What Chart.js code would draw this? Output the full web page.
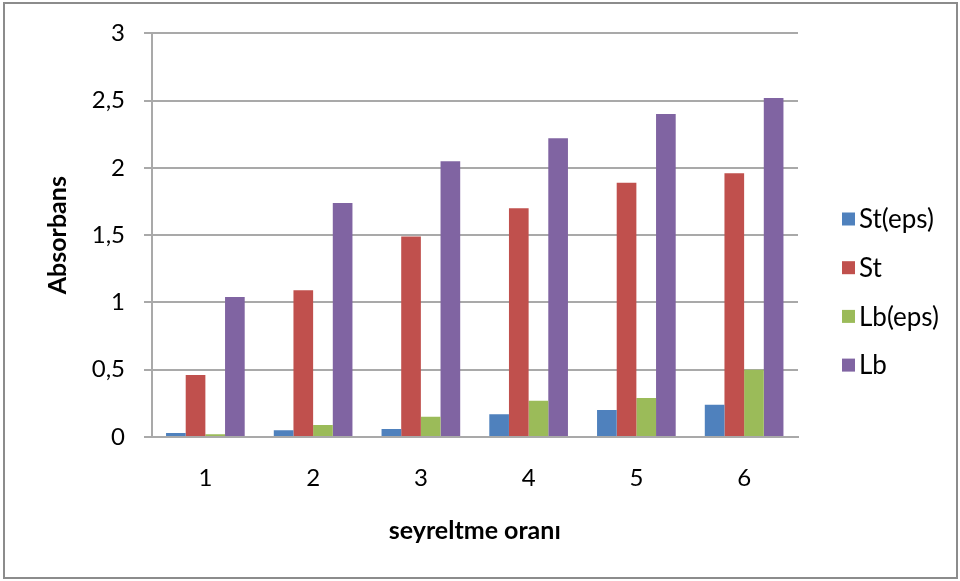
<!DOCTYPE html>
<html>
<head>
<meta charset="utf-8">
<title>Absorbans</title>
<script src="https://cdn.jsdelivr.net/npm/chart.js@4/dist/chart.umd.min.js"></script>
<style>
  html, body { margin: 0; padding: 0; background: #ffffff; }
  #wrap { width: 960px; height: 581px; position: relative; }
</style>
</head>
<body>
<div id="wrap"><canvas id="chart" width="960" height="581"></canvas></div>
<script>
// Dilution steps on the x axis
const categories = ['1', '2', '3', '4', '5', '6'];

// Absorbance per series
const stEps = [0.03, 0.05, 0.06, 0.17, 0.20, 0.24];
const st    = [0.46, 1.09, 1.49, 1.70, 1.89, 1.96];
const lbEps = [0.02, 0.09, 0.15, 0.27, 0.29, 0.50];
const lb    = [1.04, 1.74, 2.05, 2.22, 2.40, 2.52];

const seriesNames = ['St(eps)', 'St', 'Lb(eps)', 'Lb'];
const yTicks = [0, 0.5, 1, 1.5, 2, 2.5, 3];
const xTitle = 'seyreltme oranı';
const yTitle = 'Absorbans';

const FONT = 'Lato, "Open Sans", sans-serif';
const GRID = '#a9a9a9';
const colors = ['#4f81bd', '#c0504d', '#9bbb59', '#8064a2'];

// White page with the grey frame around the whole chart
const framePlugin = {
  id: 'frame',
  beforeDraw(chart) {
    const ctx = chart.ctx;
    ctx.save();
    ctx.fillStyle = '#ffffff';
    ctx.fillRect(0, 0, chart.width, chart.height);
    ctx.strokeStyle = '#8c8c8c';
    ctx.lineWidth = 2;
    ctx.strokeRect(4, 3, 953, 575);
    ctx.restore();
  }
};

// Legend column on the right, built from the datasets
const sideLegend = {
  id: 'sideLegend',
  afterDraw(chart, args, o) {
    const ctx = chart.ctx;
    ctx.save();
    ctx.font = o.fontSize + 'px ' + FONT;
    ctx.textBaseline = 'middle';
    ctx.textAlign = 'left';
    chart.data.datasets.forEach((ds, i) => {
      const y = o.top + i * o.spacing;
      ctx.fillStyle = ds.backgroundColor;
      ctx.fillRect(o.left, y - o.box / 2, o.box, o.box);
      ctx.fillStyle = '#000000';
      ctx.fillText(ds.label, o.left + o.box + o.gap, y + 1);
    });
    ctx.restore();
  }
};

const seriesValues = [stEps, st, lbEps, lb];

new Chart(document.getElementById('chart'), {
  type: 'bar',
  data: {
    labels: categories,
    datasets: seriesValues.map((values, i) => ({
      label: seriesNames[i],
      data: values,
      backgroundColor: colors[i],
      borderWidth: 0,
      categoryPercentage: 0.73,
      barPercentage: 1.0
    }))
  },
  options: {
    responsive: false,
    animation: false,
    devicePixelRatio: 1,
    layout: { padding: { top: 33, left: 8, right: 162, bottom: 8 } },
    plugins: {
      legend: { display: false },
      tooltip: { enabled: false },
      sideLegend: { left: 842, top: 219, spacing: 48.7, box: 13, gap: 4, fontSize: 26 }
    },
    scales: {
      x: {
        grid: { display: false, drawTicks: false },
        border: { display: true, color: GRID, width: 2 },
        ticks: { color: '#000000', padding: 27, font: { family: FONT, size: 24 } },
        title: {
          display: true, text: xTitle, color: '#000000',
          font: { family: FONT, size: 25, weight: 'bold' },
          padding: { top: 0, bottom: 27 }
        },
        afterFit: s => { s.height = 573 - 437; }
      },
      y: {
        min: 0, max: 3,
        afterBuildTicks: s => { s.ticks = yTicks.map(v => ({ value: v })); },
        grid: { color: GRID, lineWidth: 2, tickLength: 7.5, drawTicks: true },
        border: { display: true, color: GRID, width: 2 },
        ticks: {
          color: '#000000', padding: 19,
          font: { family: FONT, size: 24 },
          callback: v => String(v).replace('.', ',')
        },
        title: {
          display: true, text: yTitle, color: '#000000',
          font: { family: FONT, size: 25, weight: 'bold' },
          padding: { top: 35, bottom: 0 }
        },
        afterFit: s => { s.width = 151.5 - 8; }
      }
    }
  },
  plugins: [framePlugin, sideLegend]
});
</script>
</body>
</html>
